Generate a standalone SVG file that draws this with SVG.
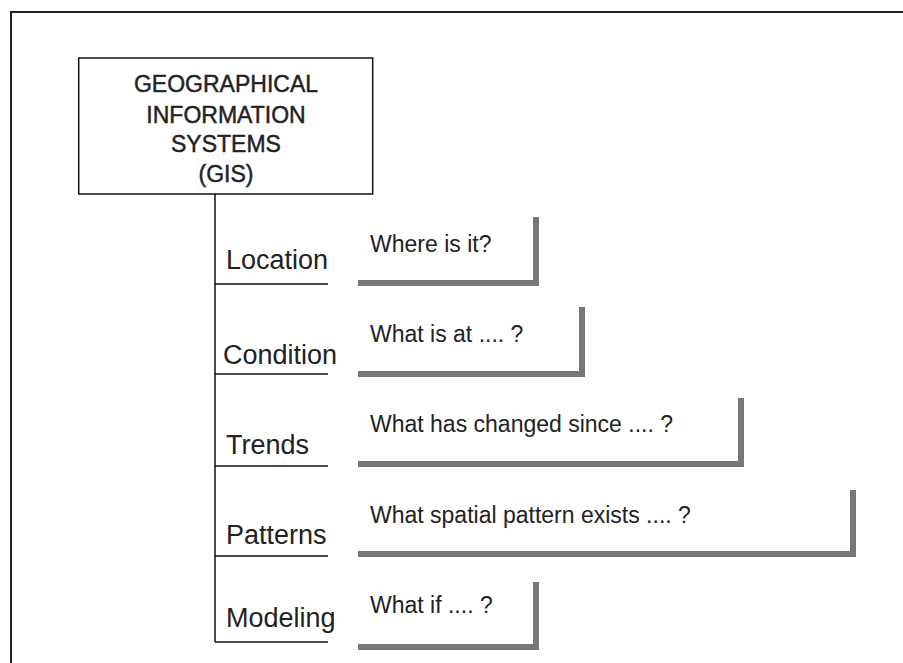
<svg xmlns="http://www.w3.org/2000/svg" width="903" height="663" viewBox="0 0 903 663">
<style>
.frame{fill:none;stroke:#222;stroke-width:2}
.box{fill:#fff;stroke:#111;stroke-width:1.5}
.ln{fill:none;stroke:#111;stroke-width:1.5}
.br{fill:none;stroke:#777;stroke-width:6;stroke-linejoin:miter}
.t{font-family:"Liberation Sans",Arial,sans-serif;fill:#222}
.hd{font-size:23px;text-anchor:middle;stroke:#222;stroke-width:0.45}
.lb{font-size:27px}
.q{font-size:23px}
</style>
<rect width="903" height="663" fill="#fff"/>
<path class="frame" d="M11,663 V12 H903"/>
<g id="gis">
<rect class="box" x="78.7" y="58" width="294" height="136"/>
<text class="t hd" x="226" y="92">GEOGRAPHICAL</text>
<text class="t hd" x="226" y="123">INFORMATION</text>
<text class="t hd" x="226" y="152">SYSTEMS</text>
<text class="t hd" x="226" y="182">(GIS)</text>
</g>
<g id="connectors">
<path class="ln" d="M215,194 V642"/>
<path class="ln" d="M215,284 H328 M215,374 H328 M215,466 H328 M215,556 H328 M215,642 H328"/>
</g>
<g id="location">
<text class="t lb" x="226" y="269">Location</text>
<text class="t q" x="370" y="252">Where is it?</text>
<path class="br" d="M358,283 H536 V217"/>
</g>
<g id="condition">
<text class="t lb" x="223" y="364">Condition</text>
<text class="t q" x="370" y="342">What is at .... ?</text>
<path class="br" d="M358,374 H582 V307"/>
</g>
<g id="trends">
<text class="t lb" x="226" y="454">Trends</text>
<text class="t q" x="370" y="432">What has changed since .... ?</text>
<path class="br" d="M358,464 H741 V398"/>
</g>
<g id="patterns">
<text class="t lb" x="226" y="544">Patterns</text>
<text class="t q" x="370" y="523">What spatial pattern exists .... ?</text>
<path class="br" d="M358,554 H853 V490"/>
</g>
<g id="modeling">
<text class="t lb" x="226" y="627">Modeling</text>
<text class="t q" x="370" y="613">What if .... ?</text>
<path class="br" d="M358,647 H536 V582"/>
</g>
</svg>
